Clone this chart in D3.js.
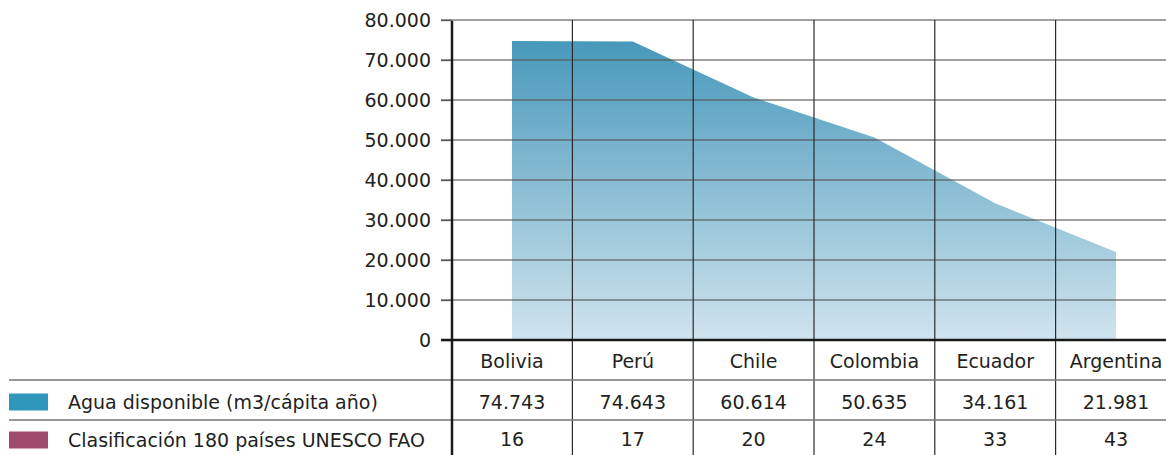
<!DOCTYPE html>
<html>
<head>
<meta charset="utf-8">
<script src="https://cdn.jsdelivr.net/npm/d3@7"></script>
<style>
  html, body { margin: 0; padding: 0; background: #fff; }
  svg { display: block; }
  text { font-family: "DejaVu Sans", "Noto Sans", sans-serif; fill: #231f20; }
</style>
</head>
<body>
<svg id="chart" width="1166" height="455"></svg>
<script>
// Países ordenados por agua disponible
const countries = ["Bolivia", "Perú", "Chile", "Colombia", "Ecuador", "Argentina"];
// Agua disponible (m3/cápita año)
const water = [74743, 74643, 60614, 50635, 34161, 21981];
// Posición en la clasificación de 180 países (UNESCO FAO)
const ranking = [16, 17, 20, 24, 33, 43];
// Marcas del eje vertical
const yTicks = [0, 10000, 20000, 30000, 40000, 50000, 60000, 70000, 80000];
// Filas de la tabla inferior
const rowLabels = ["Agua disponible (m3/cápita año)", "Clasificación 180 países UNESCO FAO"];
const rowColors = ["#2e96ba", "#a04a6e"];

const svg = d3.select("#chart");
const W = 1166, H = 455;

const axisX = 452;
const plotTop = 20, plotBottom = 340;
const row1 = 380, row2 = 420;
const fontSize = "19px";

const locale = d3.formatLocale({ decimal: ",", thousands: ".", grouping: [3], currency: ["", ""] });
const fmt = locale.format(",");

const x = d3.scalePoint().domain(countries).range([512, 1116]);
const step = x.step();
const y = d3.scaleLinear().domain([0, 80000]).range([plotBottom, plotTop]);

// Degradado del área
const defs = svg.append("defs");
const grad = defs.append("linearGradient")
  .attr("id", "waterGrad")
  .attr("gradientUnits", "userSpaceOnUse")
  .attr("x1", 0).attr("x2", 0)
  .attr("y1", y(75000)).attr("y2", y(0));
grad.append("stop").attr("offset", "0%").attr("stop-color", "#4798bb");
grad.append("stop").attr("offset", "100%").attr("stop-color", "#d0e4ee");

const area = d3.area()
  .x((d, i) => x(countries[i]))
  .y0(y(0))
  .y1(d => y(d));

svg.append("path")
  .datum(water)
  .attr("d", area)
  .attr("fill", "url(#waterGrad)");

// Líneas horizontales de la cuadrícula
svg.append("g")
  .selectAll("line")
  .data(yTicks.filter(t => t > 0))
  .join("line")
  .attr("x1", 441).attr("x2", W)
  .attr("y1", d => y(d)).attr("y2", d => y(d))
  .attr("stroke", "#555")
  .attr("stroke-opacity", 0.75)
  .attr("stroke-width", 1.3);

// Separadores de columnas
const bounds = countries.slice(1).map(c => x(c) - step / 2);
svg.append("g")
  .selectAll("line")
  .data(bounds)
  .join("line")
  .attr("x1", d => d).attr("x2", d => d)
  .attr("y1", plotTop).attr("y2", H)
  .attr("stroke", "#2b2b2b")
  .attr("stroke-width", 1.2);

// Separadores de filas de la tabla
svg.append("g")
  .selectAll("line")
  .data([row1, row2])
  .join("line")
  .attr("x1", 9).attr("x2", W)
  .attr("y1", d => d).attr("y2", d => d)
  .attr("stroke", "#777")
  .attr("stroke-width", 1.3);

// Eje vertical
const yAxis = d3.axisLeft(y)
  .tickValues(yTicks)
  .tickFormat(fmt)
  .tickSize(11)
  .tickPadding(10);
const gY = svg.append("g")
  .attr("transform", `translate(${axisX},0)`)
  .call(yAxis);
gY.select(".domain").remove();
gY.selectAll(".tick line").attr("stroke", "#555").attr("stroke-width", 1.3);
gY.selectAll(".tick text")
  .style("font-family", '"DejaVu Sans", sans-serif')
  .style("font-size", fontSize)
  .attr("fill", "#231f20");

// Línea base y eje vertical principal
svg.append("line")
  .attr("x1", 441).attr("x2", W)
  .attr("y1", y(0)).attr("y2", y(0))
  .attr("stroke", "#1a1a1a").attr("stroke-width", 2.5);
svg.append("line")
  .attr("x1", axisX).attr("x2", axisX)
  .attr("y1", plotTop + 1).attr("y2", H)
  .attr("stroke", "#1a1a1a").attr("stroke-width", 2.5);

// Tabla: estilo común de celdas
const textStyle = sel => sel
  .style("font-size", fontSize)
  .attr("text-anchor", "middle")
  .attr("dominant-baseline", "central");

// Tabla: nombres de países
svg.append("g").selectAll("text")
  .data(countries)
  .join("text")
  .attr("x", d => x(d))
  .attr("y", 361)
  .text(d => d)
  .call(textStyle);

// Tabla: agua disponible
svg.append("g").selectAll("text")
  .data(water)
  .join("text")
  .attr("x", (d, i) => x(countries[i]))
  .attr("y", 402)
  .text(d => fmt(d))
  .call(textStyle);

// Tabla: clasificación
svg.append("g").selectAll("text")
  .data(ranking)
  .join("text")
  .attr("x", (d, i) => x(countries[i]))
  .attr("y", 439)
  .text(d => d)
  .call(textStyle);

// Leyenda de filas
const legend = svg.append("g").selectAll("g")
  .data(rowLabels)
  .join("g")
  .attr("transform", (d, i) => `translate(0, ${i === 0 ? 402 : 440})`);
legend.append("rect")
  .attr("x", 9).attr("y", -8.5)
  .attr("width", 39).attr("height", 17)
  .attr("fill", (d, i) => rowColors[i]);
legend.append("text")
  .attr("x", 68).attr("y", 0)
  .attr("dominant-baseline", "central")
  .style("font-size", fontSize)
  .text(d => d);
</script>
</body>
</html>
